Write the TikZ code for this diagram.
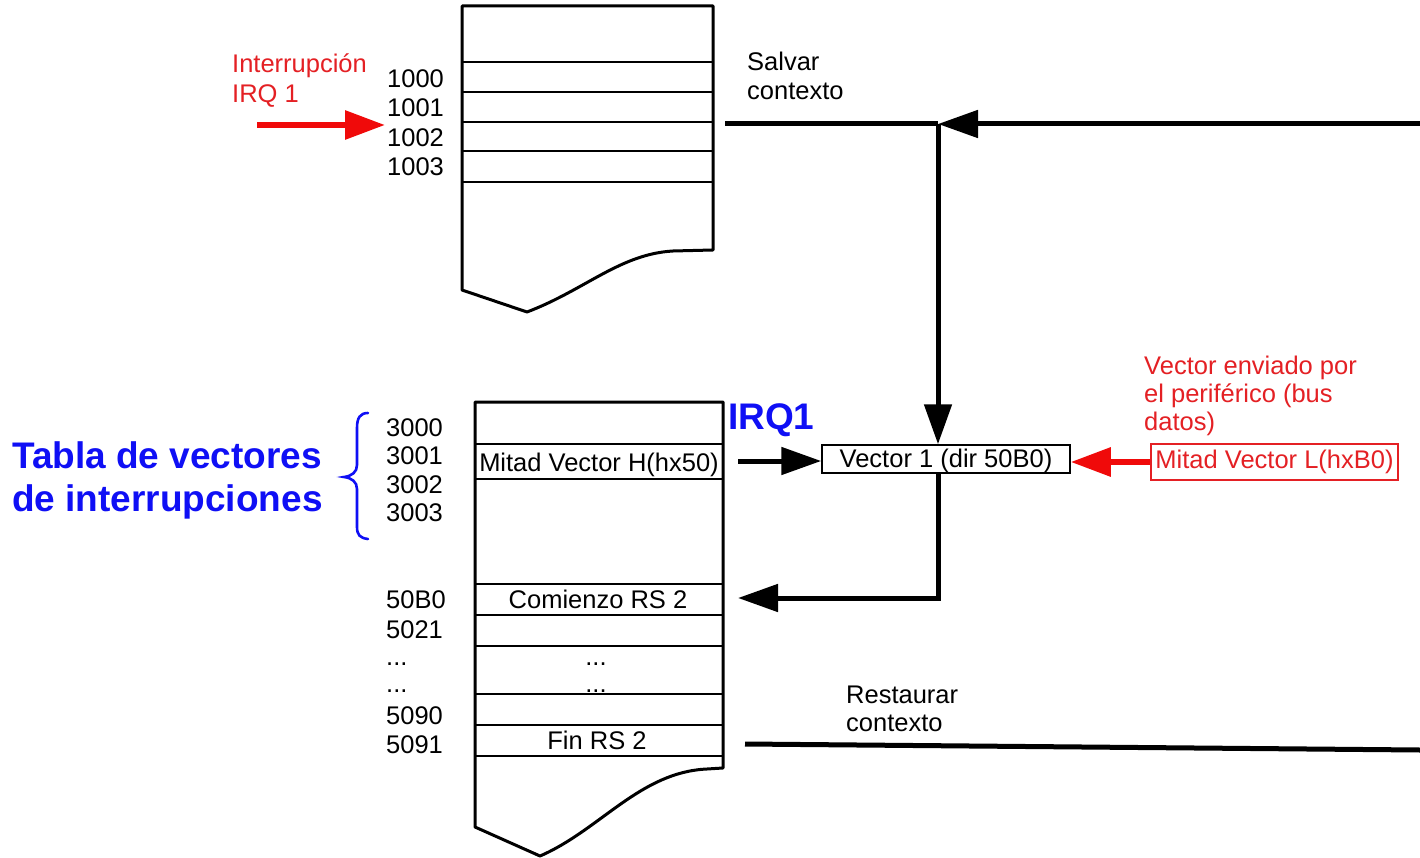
\documentclass[tikz,border=0pt]{standalone}
\usepackage{fontspec}
\setmainfont{Liberation Sans}
\usetikzlibrary{arrows.meta}
\definecolor{txtred}{RGB}{228,32,36}
\definecolor{arrred}{RGB}{240,10,10}
\definecolor{myblue}{RGB}{15,15,245}
\begin{document}
\begin{tikzpicture}[x=1pt,y=-1pt,
  lbl/.style={inner sep=0pt, anchor=base west, font=\fontsize{25.5}{30}\selectfont},
  redlbl/.style={lbl, text=txtred},
  cell/.style={inner sep=0pt, anchor=base, font=\fontsize{25.5}{30}\selectfont},
  big/.style={inner sep=0pt, anchor=base west, font=\fontsize{37}{43}\selectfont\bfseries, text=myblue},
  memout/.style={line width=3pt, line join=round},
  memrow/.style={line width=1.5pt},
  bus/.style={line width=5pt},
  headblk/.style={-{Triangle[length=40pt,width=27pt]}},
  headred/.style={-{Triangle[length=40pt,width=28pt]}},
]
\useasboundingbox (0,0) rectangle (1420,858);
\fill[white] (0,0) rectangle (1420,858);

% ---------- top memory block ----------
\draw[memout] (462,6) -- (713,6) -- (713,250) -- (673,251)
  .. controls (620,254) and (585,290) .. (527,312) -- (462,290) -- cycle;
\foreach \y in {62,92,122,151,182} \draw[memrow] (462,\y) -- (713,\y);

\node[redlbl] (intA) at (232,73) {Interrupción};
\node[redlbl] (intB) at (232,103) {IRQ 1};
\node[lbl] (a1000) at (387,88) {1000};
\node[lbl] (a1001) at (387,117) {1001};
\node[lbl] (a1002) at (387,146.5) {1002};
\node[lbl] (a1003) at (387,175.5) {1003};

\coordinate (irqS) at (257,125);
\coordinate (irqE) at (385,125);
\draw[arrred, line width=6pt, headred] (irqS) -- (irqE);

\node[lbl] (salA) at (747,71) {Salvar};
\node[lbl] (salB) at (747,100) {contexto};

% ---------- bus lines ----------
\coordinate (sR) at (1420,124);
\coordinate (j1) at (938,124);
\coordinate (sL) at (725,124);

\node[draw, line width=1.5pt, minimum width=248pt, minimum height=28pt, inner sep=0pt,
  text height=19pt, text depth=3pt,
  font=\fontsize{25.5}{30}\selectfont] (vec) at (946,459) {Vector 1 (dir 50B0)};
\node[draw=txtred, line width=1.5pt, text=txtred, minimum width=247pt, minimum height=36pt,
  inner sep=0pt, font=\fontsize{25.5}{30}\selectfont] (mvl) at (1274.5,462) {Mitad Vector L(hxB0)};

\draw[bus, headblk] (sR) -- (j1);
\draw[bus] (j1) -- (sL);
\draw[bus, headblk] (j1) -- (j1 |- vec.north);

\node[redlbl] (envA) at (1144,374) {Vector enviado por};
\node[redlbl] (envB) at (1144,402) {el periférico (bus};
\node[redlbl] (envC) at (1144,430) {datos)};

\draw[arrred, line width=6pt, headred] (mvl.west) -- (mvl.west -| vec.east);

% ---------- bottom memory block ----------
\draw[memout] (475,402) -- (723,402) -- (723,768) -- (707,769)
  .. controls (640,772) and (600,830) .. (540,856) -- (475,827) -- cycle;
\foreach \y in {444,479,584,615,646,694,725,756} \draw[memrow] (475,\y) -- (723,\y);

\node[cell] (mvh) at (599,471) {Mitad Vector H(hx50)};
\node[cell] (crs) at (598,608) {Comienzo RS 2};
\node[cell] (dotsA) at (596,665) {...};
\node[cell] (dotsB) at (596,692) {...};
\node[cell] (frs) at (597,749) {Fin RS 2};

\node[lbl] (b3000) at (386,436) {3000};
\node[lbl] (b3001) at (386,464) {3001};
\node[lbl] (b3002) at (386,493) {3002};
\node[lbl] (b3003) at (386,521) {3003};
\node[lbl] (b50B0) at (386,608) {50B0};
\node[lbl] (b5021) at (386,638) {5021};
\node[lbl] (bdA) at (386,665) {...};
\node[lbl] (bdB) at (386,692) {...};
\node[lbl] (b5090) at (386,724) {5090};
\node[lbl] (b5091) at (386,753) {5091};

\node[big] (irq1) at (728,429) {IRQ1};
\node[big] (tabA) at (12,468) {Tabla de vectores};
\node[big] (tabB) at (12,511) {de interrupciones};

% brace
\draw[myblue, line width=2.6pt, line cap=round]
  (368,413) .. controls (360,413) and (357,418) .. (357,428) -- (357,465)
  .. controls (357,472) and (352,476) .. (344,477)
  .. controls (352,478) and (357,482) .. (357,489) -- (357,527)
  .. controls (357,535) and (360,538) .. (368,539);

% arrows between blocks
\coordinate (hS) at (738,461);
\draw[bus, headblk] (hS) -- (hS -| vec.west);
\coordinate (cRS) at (738,598);
\draw[bus, headblk, line join=miter] (j1 |- vec.south) |- (cRS);

% restore context
\node[lbl] (resA) at (846,703) {Restaurar};
\node[lbl] (resB) at (846,731) {contexto};
\coordinate (rL) at (745,744);
\coordinate (rR) at (1420,750);
\draw[bus] (rL) -- (rR);
\end{tikzpicture}
\end{document}
